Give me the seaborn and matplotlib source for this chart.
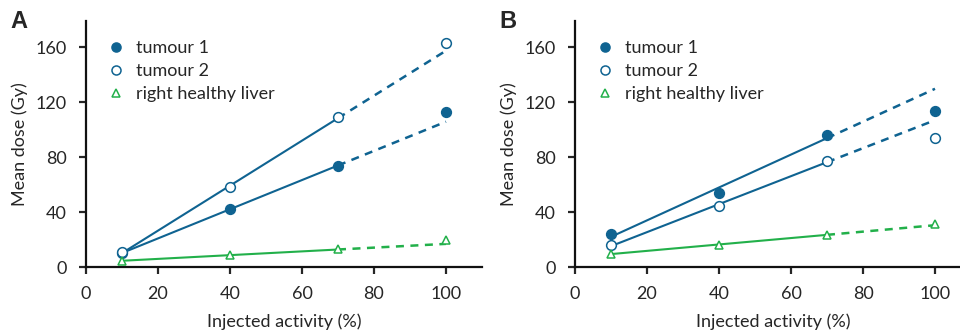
import numpy as np
import pandas as pd
import matplotlib
matplotlib.use('Agg')
import matplotlib.pyplot as plt
from matplotlib.lines import Line2D
import seaborn as sns

# data
activity = [10, 40, 70, 100]

a_tumour1 = [10.0, 42.4, 73.7, 112.7]
a_tumour2 = [10.7, 58.0, 108.9, 162.7]
a_liver = [4.6, 8.5, 12.8, 19.9]

b_tumour1 = [24.0, 53.8, 95.8, 113.7]
b_tumour2 = [16.0, 44.1, 77.1, 94.0]
b_liver = [9.5, 16.2, 23.5, 31.3]

series_names = ['tumour 1', 'tumour 2', 'right healthy liver']
panel_letters = ['A', 'B']
x_ticks = [0, 20, 40, 60, 80, 100]
y_ticks = [0, 40, 80, 120, 160]

BLUE = '#0f6391'
GREEN = '#22b04a'

sns.set_style('ticks')
plt.rcParams['font.family'] = ['Lato', 'DejaVu Sans']
plt.rcParams['axes.linewidth'] = 1.6
plt.rcParams['xtick.major.width'] = 1.6
plt.rcParams['ytick.major.width'] = 1.6
plt.rcParams['xtick.major.size'] = 5
plt.rcParams['ytick.major.size'] = 5
plt.rcParams['axes.edgecolor'] = '#111111'

styles = {
    'tumour 1': dict(color=BLUE, marker='o', filled=True, ms=7),
    'tumour 2': dict(color=BLUE, marker='o', filled=False, ms=7),
    'right healthy liver': dict(color=GREEN, marker='^', filled=False, ms=6.3),
}


def draw_panel(ax, t1, t2, liver, letter):
    df = pd.DataFrame({
        'activity': activity * 3,
        'dose': t1 + t2 + liver,
        'series': [n for n in series_names for _ in activity],
    })
    for name in series_names:
        st = styles[name]
        sub = df[df['series'] == name]
        # linear fit on the first three activities
        fit_x = sub['activity'].values[:3]
        fit_y = sub['dose'].values[:3]
        k, b = np.polyfit(fit_x, fit_y, 1)
        xs_solid = np.array([10, 70])
        xs_dash = np.array([70, 100])
        sns.lineplot(x=xs_solid, y=k * xs_solid + b, ax=ax, color=st['color'],
                     linewidth=1.5, zorder=2)
        sns.lineplot(x=xs_dash, y=k * xs_dash + b, ax=ax, color=st['color'],
                     linewidth=1.8, linestyle=(0, (3.2, 2.6)), zorder=2)
        ax.plot(sub['activity'], sub['dose'], linestyle='none', marker=st['marker'],
                markersize=st['ms'], markeredgewidth=1.1, color=st['color'],
                markerfacecolor=st['color'] if st['filled'] else 'white', zorder=3)

    ax.set_xlim(0, 110)
    ax.set_ylim(0, 179)
    ax.set_xticks(x_ticks)
    ax.set_yticks(y_ticks)
    ax.tick_params(axis='x', labelsize=13, pad=9)
    ax.tick_params(axis='y', labelsize=13, pad=9)
    ax.set_xlabel('Injected activity (%)', fontsize=13, labelpad=8)
    ax.set_ylabel('Mean dose (Gy)', fontsize=13, labelpad=5)
    sns.despine(ax=ax)

    handles = []
    for name in series_names:
        st = styles[name]
        handles.append(Line2D([], [], linestyle='none', marker=st['marker'],
                              markersize=st['ms'] - 0.5, markeredgewidth=1.1,
                              color=st['color'],
                              markerfacecolor=st['color'] if st['filled'] else 'white'))
    ax.legend(handles, series_names, frameon=False, loc='upper left',
              bbox_to_anchor=(0.025, 0.965), fontsize=13, handlelength=1.0,
              handletextpad=0.6, labelspacing=0.38, borderaxespad=0.2)
    ax.text(-0.19, 1.0, letter, transform=ax.transAxes, fontsize=17,
            fontweight='bold', family=['Liberation Sans', 'DejaVu Sans'],
            va='center', ha='left')


fig = plt.figure(figsize=(9.6, 3.32), dpi=100)
ax_a = fig.add_axes([86 / 960, 65 / 332, 396 / 960, 246 / 332])
ax_b = fig.add_axes([575 / 960, 65 / 332, 396 / 960, 246 / 332])

draw_panel(ax_a, a_tumour1, a_tumour2, a_liver, panel_letters[0])
draw_panel(ax_b, b_tumour1, b_tumour2, b_liver, panel_letters[1])

fig.savefig('out.png', dpi=100)
